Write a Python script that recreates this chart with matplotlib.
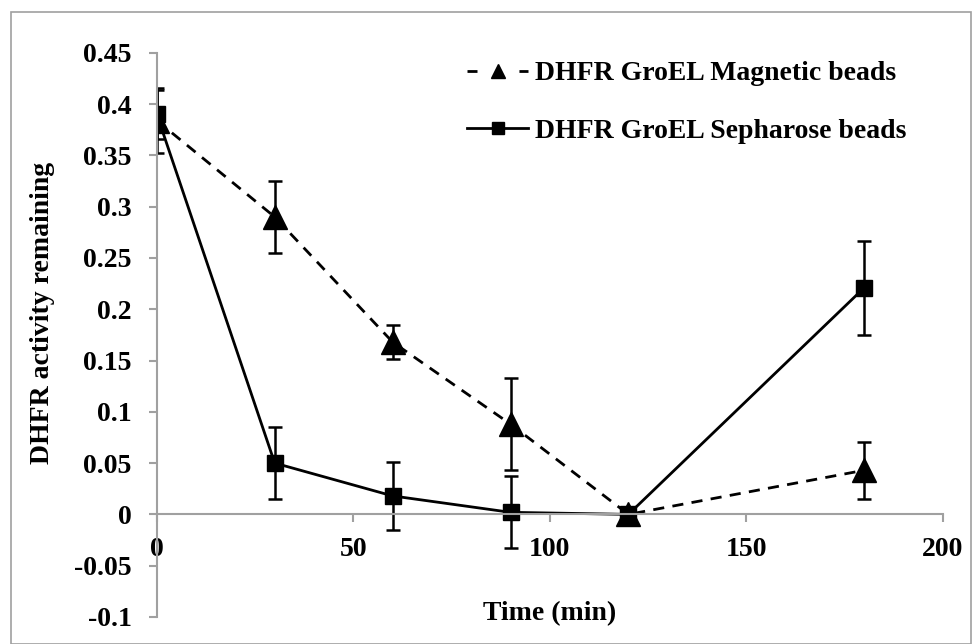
import numpy as np
import matplotlib
matplotlib.use("Agg")
import matplotlib.pyplot as plt
from matplotlib.patches import Rectangle
from matplotlib.lines import Line2D

# data
time_min = [0, 30, 60, 90, 120, 180]
magnetic = [0.384, 0.29, 0.168, 0.088, 0.0, 0.043]
magnetic_err = [0.032, 0.035, 0.017, 0.045, 0.0, 0.028]
sepharose = [0.39, 0.05, 0.018, 0.002, 0.0, 0.221]
sepharose_err = [0.024, 0.035, 0.033, 0.035, 0.0, 0.046]

xticks = [0, 50, 100, 150, 200]
yticks = [-0.1, -0.05, 0, 0.05, 0.1, 0.15, 0.2, 0.25, 0.3, 0.35, 0.4, 0.45]
ytick_labels = ["-0.1", "-0.05", "0", "0.05", "0.1", "0.15", "0.2", "0.25", "0.3", "0.35", "0.4", "0.45"]

plt.rcParams['font.family'] = ['Liberation Serif', 'DejaVu Serif']
plt.rcParams['font.weight'] = 'bold'
FS = 20

fig = plt.figure(figsize=(9.74, 6.44), dpi=100)
ax = fig.add_axes([0.161, 0.042, 0.807, 0.876])

# outer gray frame
fig.patches.append(Rectangle((0.011, 0.0), 0.986, 0.982, transform=fig.transFigure,
                             fill=False, edgecolor='#a0a0a0', linewidth=1.2))

ax.errorbar(time_min, magnetic, yerr=magnetic_err, color='black', linestyle=(0, (4, 3)),
            linewidth=2, marker='^', markersize=17, capsize=5, elinewidth=1.8, capthick=1.8)
ax.errorbar(time_min, sepharose, yerr=sepharose_err, color='black', linestyle='-',
            linewidth=2, marker='s', markersize=11, capsize=5, elinewidth=1.8, capthick=1.8)

ax.set_xlim(0, 200)
ax.set_ylim(-0.1, 0.45)
ax.set_xticks(xticks)
ax.set_yticks(yticks)
ax.set_yticklabels(ytick_labels)

for s in ['top', 'right']:
    ax.spines[s].set_visible(False)
ax.spines['bottom'].set_position(('data', 0))
for s in ['bottom', 'left']:
    ax.spines[s].set_color('#a0a0a0')
    ax.spines[s].set_linewidth(1.5)
ax.tick_params(axis='x', direction='out', length=6, width=1.5, color='#a0a0a0', pad=10, labelsize=FS)
ax.tick_params(axis='y', direction='out', length=6, width=1.5, color='#a0a0a0', pad=12, labelsize=FS)
for lab in ax.get_xticklabels() + ax.get_yticklabels():
    lab.set_fontweight('bold')

fig.text(43 / 974, 1 - 313 / 644, 'DHFR activity remaining', rotation=90, ha='center', va='center',
         fontsize=FS, fontweight='bold')
ax.text(100, -0.097, 'Time (min)', ha='center', va='center', fontsize=FS, fontweight='bold')

# legend without error bars, like the spreadsheet one
h1 = Line2D([], [], color='black', linestyle=(0, (3.6, 15.1)), linewidth=2, marker='^', markersize=10)
h2 = Line2D([], [], color='black', linestyle='-', linewidth=2, marker='s', markersize=8)
leg = fig.legend([h1, h2], ['DHFR GroEL Magnetic beads', 'DHFR GroEL Sepharose beads'],
                 loc='upper left', bbox_to_anchor=(467 / 974, 1 - 61 / 644), frameon=False,
                 fontsize=FS, handlelength=2.2, handletextpad=0.25, labelspacing=1.15,
                 borderpad=0, borderaxespad=0, numpoints=1)
for t in leg.get_texts():
    t.set_fontweight('bold')

fig.savefig('out.png', dpi=100)
